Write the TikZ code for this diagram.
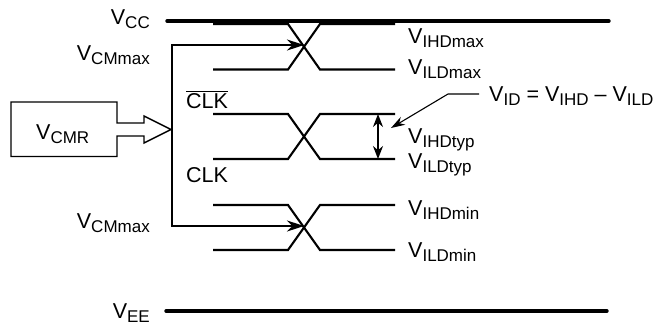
\documentclass[tikz,border=0pt]{standalone}
\usepackage{fontspec}
\setmainfont{Liberation Sans}
\usetikzlibrary{arrows.meta}
\newcommand{\Vsub}[1]{V\raisebox{-4pt}{\fontsize{17}{17}\selectfont #1}}
\tikzset{
    wave/.style={line width=2.1pt},
    rail/.style={line width=3.4pt,line cap=round},
    feed/.style={line width=2.1pt,-{Stealth[length=17pt,width=11pt]}},
    lbl/.style={inner sep=0pt,font=\fontsize{21.5}{21.5}\selectfont},
}
\begin{document}
\begin{tikzpicture}[x=1pt,y=-1pt]
    \useasboundingbox (0,0) rectangle (662,325);
    % Rails
    \draw[rail] (167,21) -- (609,21);
    \draw[rail] (166,311) -- (607,311);
    % Crossings
    \foreach \top/\bot/\name in {24/69.5/max,114/159/typ,205/250/min} {%
        \draw[wave] (213,\top) -- (288,\top) -- (320,\bot) -- (395,\bot);
        \draw[wave] (213,\bot) -- (288,\bot) -- (320,\top) -- (395,\top);
        \coordinate (x\name) at (304,{(\top+\bot)/2});
    }
    % Common mode feed
    \coordinate (cmtop) at (172,45);
    \coordinate (cmbot) at (172,226);
    \draw[wave,line cap=rect] (cmtop) -- (cmbot);
    \draw[feed] (cmtop) -- (304,45);
    \draw[feed] (cmbot) -- (304,226);
    % Box and hollow arrow
    \draw[line width=1.4pt,line join=miter] (117,123) -- (117,102) -- (11,102) -- (11,156.5) -- (117,156.5)
        -- (117,136) -- (144,136) -- (144,143) -- (171,129.5) -- (144,116) -- (144,123) -- cycle;
    % Vid arrows
    \coordinate (idtop) at (378,114);
    \coordinate (idbot) at (378,159);
    \draw[line width=1.4pt,{Stealth[length=13pt,width=10pt]}-{Stealth[length=13pt,width=10pt]}] (idtop) -- (idbot);
    \coordinate (leadend) at (479,94);
    \coordinate (leadtip) at (391,128);
    \draw[line width=1.1pt,-{Stealth[length=14pt,width=9pt]}] (leadend) -- (448,94) -- (leadtip);
    % Labels
    \node[lbl,anchor=base east] (vcc) at (150,24) {\Vsub{CC}};
    \node[lbl,anchor=base east] (vcmtop) at (150,60) {\Vsub{CMmax}};
    \node[lbl,anchor=base east] (vcmbot) at (150,228) {\Vsub{CMmax}};
    \node[lbl,anchor=base east] (vee) at (150,318) {\Vsub{EE}};
    \node[lbl,anchor=base west] (vcmr) at (36,139) {\Vsub{CMR}};
    \node[lbl,anchor=base west] (clkn) at (186,108) {$\overline{\mbox{CLK}}$};
    \node[lbl,anchor=base west] (clk) at (186,182) {CLK};
    \foreach \name/\txt/\y in {ihdmax/IHDmax/43,ildmax/ILDmax/74,ihdtyp/IHDtyp/143,ildtyp/ILDtyp/168,ihdmin/IHDmin/215,ildmin/ILDmin/257} {%
        \node[lbl,anchor=base west] (\name) at (408,\y) {\Vsub{\txt}};
    }
    \node[lbl,anchor=base west] (vid) at (489,101) {\Vsub{ID} = \Vsub{IHD} -- \Vsub{ILD}};
\end{tikzpicture}
\end{document}
